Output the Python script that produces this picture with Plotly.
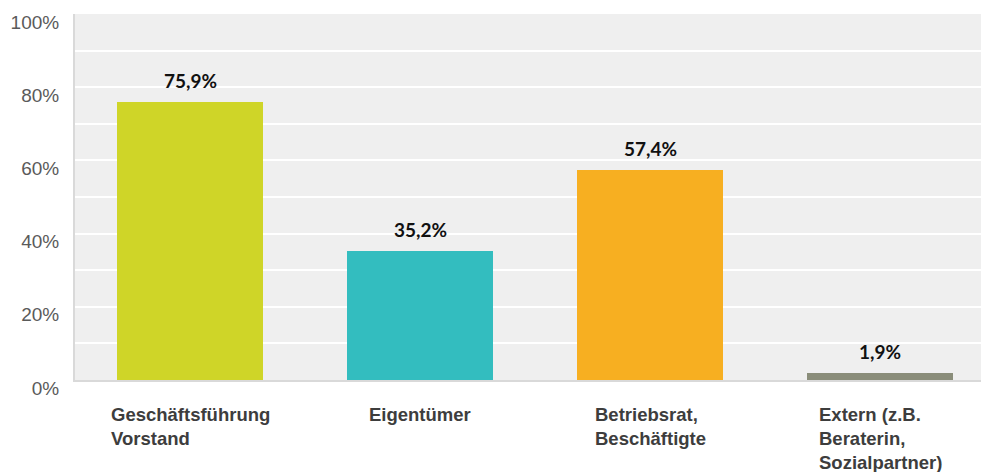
import plotly.graph_objects as go

# Who drives the topic within the company (share of answers, %)
categories = [
    "Geschäftsführung<br>Vorstand",
    "Eigentümer",
    "Betriebsrat,<br>Beschäftigte",
    "Extern (z.B.<br>Beraterin,<br>Sozialpartner)",
]
values = [75.9, 35.2, 57.4, 1.9]
bar_colors = ["#cfd528", "#33bdbf", "#f7af21", "#8a8d7a"]
y_ticks = [0, 10, 20, 30, 40, 50, 60, 70, 80, 90, 100]
y_tick_text = ["0%", "", "20%", "", "40%", "", "60%", "", "80%", "", "100%"]

x_pos = list(range(len(categories)))

fig = go.Figure(
    go.Bar(
        x=x_pos,
        y=values,
        marker=dict(color=bar_colors, line=dict(width=0)),
        width=0.635,
        hoverinfo="skip",
    )
)

annotations = []
for xi, v in zip(x_pos, values):
    annotations.append(
        dict(
            x=xi, y=v, xref="x", yref="y",
            text=f"{v:.1f}%".replace(".", ","),
            showarrow=False, yanchor="bottom", yshift=8,
            font=dict(family="Lato", size=19, color="#111111", weight="bold"),
        )
    )
for xi, label in zip(x_pos, categories):
    annotations.append(
        dict(
            x=xi, y=0, xref="x", yref="paper",
            text=label, showarrow=False, align="left",
            xanchor="center", yanchor="top", yshift=-22,
            font=dict(family="Liberation Sans", size=18.5, color="#3d3d3d", weight="bold"),
        )
    )

fig.update_layout(
    width=981,
    height=472,
    margin=dict(l=75, r=0, t=14, b=92),
    paper_bgcolor="white",
    plot_bgcolor="#efefef",
    showlegend=False,
    bargap=0,
    annotations=annotations,
    xaxis=dict(
        range=[-0.5, -0.5 + 906 / 230],
        showticklabels=False,
        showgrid=False,
        zeroline=False,
        showline=True,
        linecolor="#d9d9d9",
        linewidth=2,
        fixedrange=True,
    ),
    yaxis=dict(
        range=[0, 100],
        tickvals=y_ticks,
        ticktext=y_tick_text,
        ticks="",
        ticklabelstandoff=10,
        ticklabelshift=8,
        tickfont=dict(family="Liberation Sans", size=19, color="#5a5a5a"),
        showgrid=True,
        gridcolor="white",
        gridwidth=2,
        zeroline=False,
        showline=True,
        linecolor="#d9d9d9",
        linewidth=2,
        fixedrange=True,
    ),
)

fig.write_html("out.html")
